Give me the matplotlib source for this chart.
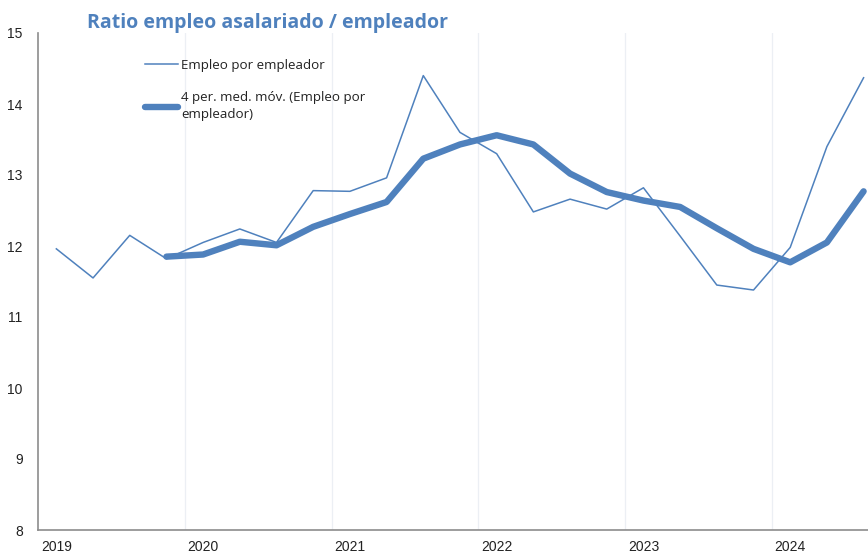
import matplotlib.pyplot as plt
import numpy as np

plt.rcParams['font.family'] = ['Open Sans', 'DejaVu Sans']

# quarterly values, 2019 Q1 .. 2024 Q3
empleo = [11.96, 11.55, 12.15, 11.82, 12.05, 12.24, 12.05, 12.78,
          12.77, 12.96, 14.40, 13.60, 13.30, 12.48, 12.66, 12.52,
          12.82, 12.14, 11.45, 11.38, 11.98, 13.40, 14.37]
# 4 period moving average, starts at 4th quarter
media_movil = [None, None, None, 11.85, 11.88, 12.06, 12.01, 12.27,
               12.45, 12.62, 13.23, 13.43, 13.56, 13.43, 13.02, 12.76,
               12.64, 12.55, 12.25, 11.96, 11.77, 12.05, 12.77]
years = ['2019', '2020', '2021', '2022', '2023', '2024']

color = '#4f81bd'
x = np.arange(len(empleo))
mm = np.array([np.nan if v is None else v for v in media_movil])

fig = plt.figure(figsize=(8.68, 5.53), dpi=100)
ax = fig.add_axes([38 / 868, 1 - 530 / 553, 1 - 38 / 868, (530 - 33) / 553])

ax.plot(x, empleo, color=color, lw=1.1, label='Empleo por empleador')
ax.plot(x, mm, color=color, lw=4.6, solid_capstyle='round',
        label='4 per. med. móv. (Empleo por\nempleador)')

ax.set_xlim(-0.5, 22.12)
ax.set_ylim(8, 15)
ax.set_yticks(range(8, 16))
ax.set_xticks(np.arange(0, len(empleo), 4))
ax.set_xticklabels(years)
for gx in np.arange(3.5, 22, 4):
    ax.axvline(gx, color='#eceff4', lw=0.9, zorder=0)

ax.tick_params(axis='both', length=0, labelsize=10, colors='#222222')
ax.tick_params(axis='y', pad=11)
ax.tick_params(axis='x', pad=7)
for lab in ax.get_yticklabels() + ax.get_xticklabels():
    lab.set_family(['Liberation Sans', 'DejaVu Sans'])
ax.spines['top'].set_visible(False)
ax.spines['right'].set_visible(False)
ax.spines['left'].set_color('#8c8c8c')
ax.spines['bottom'].set_color('#8c8c8c')
ax.spines['left'].set_linewidth(1.2)
ax.spines['bottom'].set_linewidth(1.2)

fig.text(87 / 868, 1 - 23 / 553, 'Ratio empleo asalariado / empleador',
         color=color, fontsize=14, fontweight='bold', va='center', ha='left')

leg = ax.legend(loc='upper left', bbox_to_anchor=(145 / 868, 1 - 59 / 553),
                bbox_transform=fig.transFigure, frameon=False, fontsize=9.6,
                handlelength=2.45, handletextpad=0.25, labelspacing=1.45,
                borderaxespad=0, borderpad=0)
for t in leg.get_texts():
    t.set_color('#222222')
    t.set_linespacing(1.4)

fig.savefig('out.png', dpi=100)
